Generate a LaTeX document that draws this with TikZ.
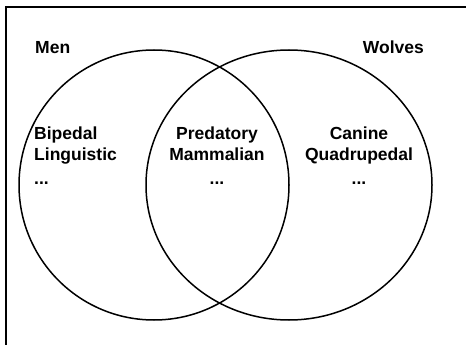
\documentclass[tikz,border=0pt]{standalone}
\usepackage{fontspec}
\setmainfont{Liberation Sans}
\begin{document}
\begin{tikzpicture}[x=1pt,y=-1pt,
  lbl/.style={font=\fontsize{17.5}{21}\selectfont\bfseries, inner sep=0pt},
  setshape/.style={draw=black, line width=1.5pt},
  frameline/.style={draw=black, line width=2pt}]
\useasboundingbox (0,0) rectangle (466,345);
% frame (top and left edges visible)
\coordinate (ftl) at (5.5,7.5);
\coordinate (ftr) at (466,7.5);
\coordinate (fbl) at (5.5,345);
\draw[frameline] (fbl) -- (ftl) -- (ftr);
% sets
\draw[setshape] (154,185) circle[radius=135];
\draw[setshape] (289,185) ellipse[x radius=143, y radius=135];
% labels
\node[lbl, anchor=base west] (men) at (35,54) {Men};
\node[lbl, anchor=base east] (wolves) at (424,54) {Wolves};
\node[lbl, anchor=north west, align=left] (left) at (34,127) {Bipedal\\Linguistic\\[3pt]...};
\node[lbl, anchor=north, align=center] (mid) at (217,127) {Predatory\\Mammalian\\[3pt]...};
\node[lbl, anchor=north, align=center] (right) at (359,127) {Canine\\Quadrupedal\\[3pt]...};
\end{tikzpicture}
\end{document}
